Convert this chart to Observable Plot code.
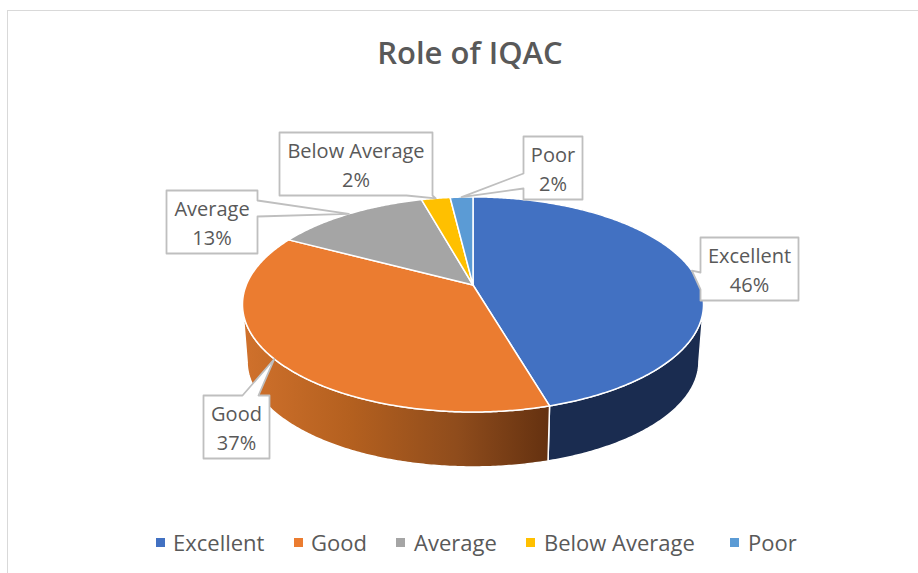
<!DOCTYPE html>
<html>
<head>
<meta charset="utf-8">
<script src="https://cdn.jsdelivr.net/npm/d3@7"></script>
<script src="https://cdn.jsdelivr.net/npm/@observablehq/plot@0.6"></script>
<style>
  html, body { margin: 0; padding: 0; background: #fff; }
  body { width: 918px; height: 573px; overflow: hidden; position: relative; font-family: "Open Sans", sans-serif; color: #595959; }
  #frame { position: absolute; left: 7px; top: 10px; width: 930px; height: 590px; border: 1.5px solid #d9d9d9; box-sizing: border-box; pointer-events: none; }
  #title { height: 100px; box-sizing: border-box; padding-top: 31px; text-align: center; font-size: 31px; font-weight: 600; line-height: 42px; padding-left: 22px; }
  #chart { height: 410px; }
  #chart svg { display: block; }
  #legend { position: relative; height: 63px; font-size: 22px; }
  #legend span.item { position: absolute; top: 16px; line-height: 32px; white-space: nowrap; }
  #legend span.key { position: absolute; top: 28px; width: 9px; height: 9px; }
</style>
</head>
<body>
<div id="frame"></div>
<div id="title"></div>
<div id="chart"></div>
<div id="legend"></div>
<script>
const chartTitle = "Role of IQAC";
const categories = ["Excellent", "Good", "Average", "Below Average", "Poor"];
const shares = [45.5, 37.3, 12.9, 2.4, 1.9];
const colors = ["#4271c2", "#eb7c30", "#a5a5a5", "#ffc000", "#5b9bd5"];

// Layout only: the tilted pie's projection and the callout boxes.
const pie = {cx: 472.5, cy: 284.5, r: 226.7, rise: 104, persp: 0.181, wallDrop: 57.5, wallScale: 0.98};
const callouts = [
  {box: [700, 237, 798, 300], side: "left", base: [289, 272]},
  {box: [203, 395, 269, 458], side: "top", base: [242, 258]},
  {box: [166, 190, 257, 253], side: "right", base: [200, 216]},
  {box: [279, 132, 432, 195], side: "bottom", base: [432, 406]},
  {box: [523, 136, 582, 199], side: "left", base: [188, 173]}
];
const legendKeys = [156, 294, 396, 526, 730];
const legendText = [173, 311, 414, 544, 748];

const total = d3.sum(shares);
const turn = v => (v / total) * 2 * Math.PI;
function project(t, k = 1, drop = 0) {
  const u = Math.sin(t), v = -Math.cos(t), w = 1 - pie.persp * v;
  return {x: pie.cx + k * pie.r * u / w, y: pie.cy + drop + k * pie.rise * v / w};
}
function arc(t0, t1, k, drop) {
  const n = Math.max(2, Math.ceil(Math.abs(t1 - t0) / 0.01));
  return d3.range(n + 1).map(i => project(t0 + (t1 - t0) * i / n, k, drop));
}
let cum = 0;
const slices = shares.map((s, i) => {
  const t0 = turn(cum); cum += s; const t1 = turn(cum);
  return {name: categories[i], share: s, color: colors[i], t0, t1, mid: (t0 + t1) / 2};
});
const faces = slices.map(d => [{x: pie.cx, y: pie.cy}, ...arc(d.t0, d.t1), {x: pie.cx, y: pie.cy}]);

const tRight = Math.acos(-pie.persp), tLeft = 2 * Math.PI - tRight;
const wall = (a, b) => {
  const upper = arc(a, b), lower = arc(b, a, pie.wallScale, pie.wallDrop);
  return [...upper, ...lower, upper[0]];
};
const blueWall = wall(tRight, slices[0].t1);
const orangeWall = wall(slices[0].t1, tLeft);

function calloutPath(c, tip) {
  const [x0, y0, x1, y1] = c.box, [a, b] = c.base, p = [{x: x0, y: y0}];
  if (c.side === "top") p.push({x: a, y: y0}, tip, {x: b, y: y0});
  p.push({x: x1, y: y0});
  if (c.side === "right") p.push({x: x1, y: a}, tip, {x: x1, y: b});
  p.push({x: x1, y: y1});
  if (c.side === "bottom") p.push({x: a, y: y1}, tip, {x: b, y: y1});
  p.push({x: x0, y: y1});
  if (c.side === "left") p.push({x: x0, y: a}, tip, {x: x0, y: b});
  p.push({x: x0, y: y0});
  return p;
}
const labelRows = slices.map((d, i) => {
  const [x0, y0, x1, y1] = callouts[i].box;
  return {x: (x0 + x1) / 2, y: (y0 + y1) / 2 - 0.5, text: `${d.name}\n${Math.round(d.share)}%`};
});

const gradient = () => {
  const defs = d3.create("svg:defs");
  const g = defs.append("linearGradient").attr("id", "orangeWall");
  [[0, "#d0712c"], [0.35, "#b4601f"], [0.7, "#8f4c1c"], [1, "#643110"]].forEach(([o, c]) =>
    g.append("stop").attr("offset", o).attr("stop-color", c));
  return defs.node();
};

const line = (rows, fill, stroke, strokeWidth) =>
  Plot.line(rows, {x: "x", y: "y", fill, stroke, strokeWidth, curve: "linear"});

const plot = Plot.plot({
  width: 918,
  height: 410,
  margin: 0,
  x: {domain: [0, 918], range: [0, 918], axis: null},
  y: {domain: [100, 510], range: [0, 410], axis: null},
  marks: [
    gradient,
    line(blueWall, "#1a2c50", "white", 1.5),
    line(orangeWall, "url(#orangeWall)", "white", 1.5),
    ...faces.map((f, i) => line(f, slices[i].color, "white", 1.5)),
    ...callouts.map((c, i) => line(calloutPath(c, project(slices[i].mid)), "white", "#bfbfbf", 1.8)),
    Plot.text(labelRows, {x: "x", y: "y", text: "text", fontSize: 20, lineHeight: 1.42, fill: "#595959", fontFamily: "Open Sans", textAnchor: "middle"})
  ]
});
document.getElementById("chart").append(plot);
document.getElementById("title").textContent = chartTitle;
const legend = d3.select("#legend");
categories.forEach((c, i) => {
  legend.append("span").attr("class", "key").style("left", legendKeys[i] + "px").style("background", colors[i]);
  legend.append("span").attr("class", "item").style("left", legendText[i] + "px").text(c);
});
</script>
</body>
</html>
